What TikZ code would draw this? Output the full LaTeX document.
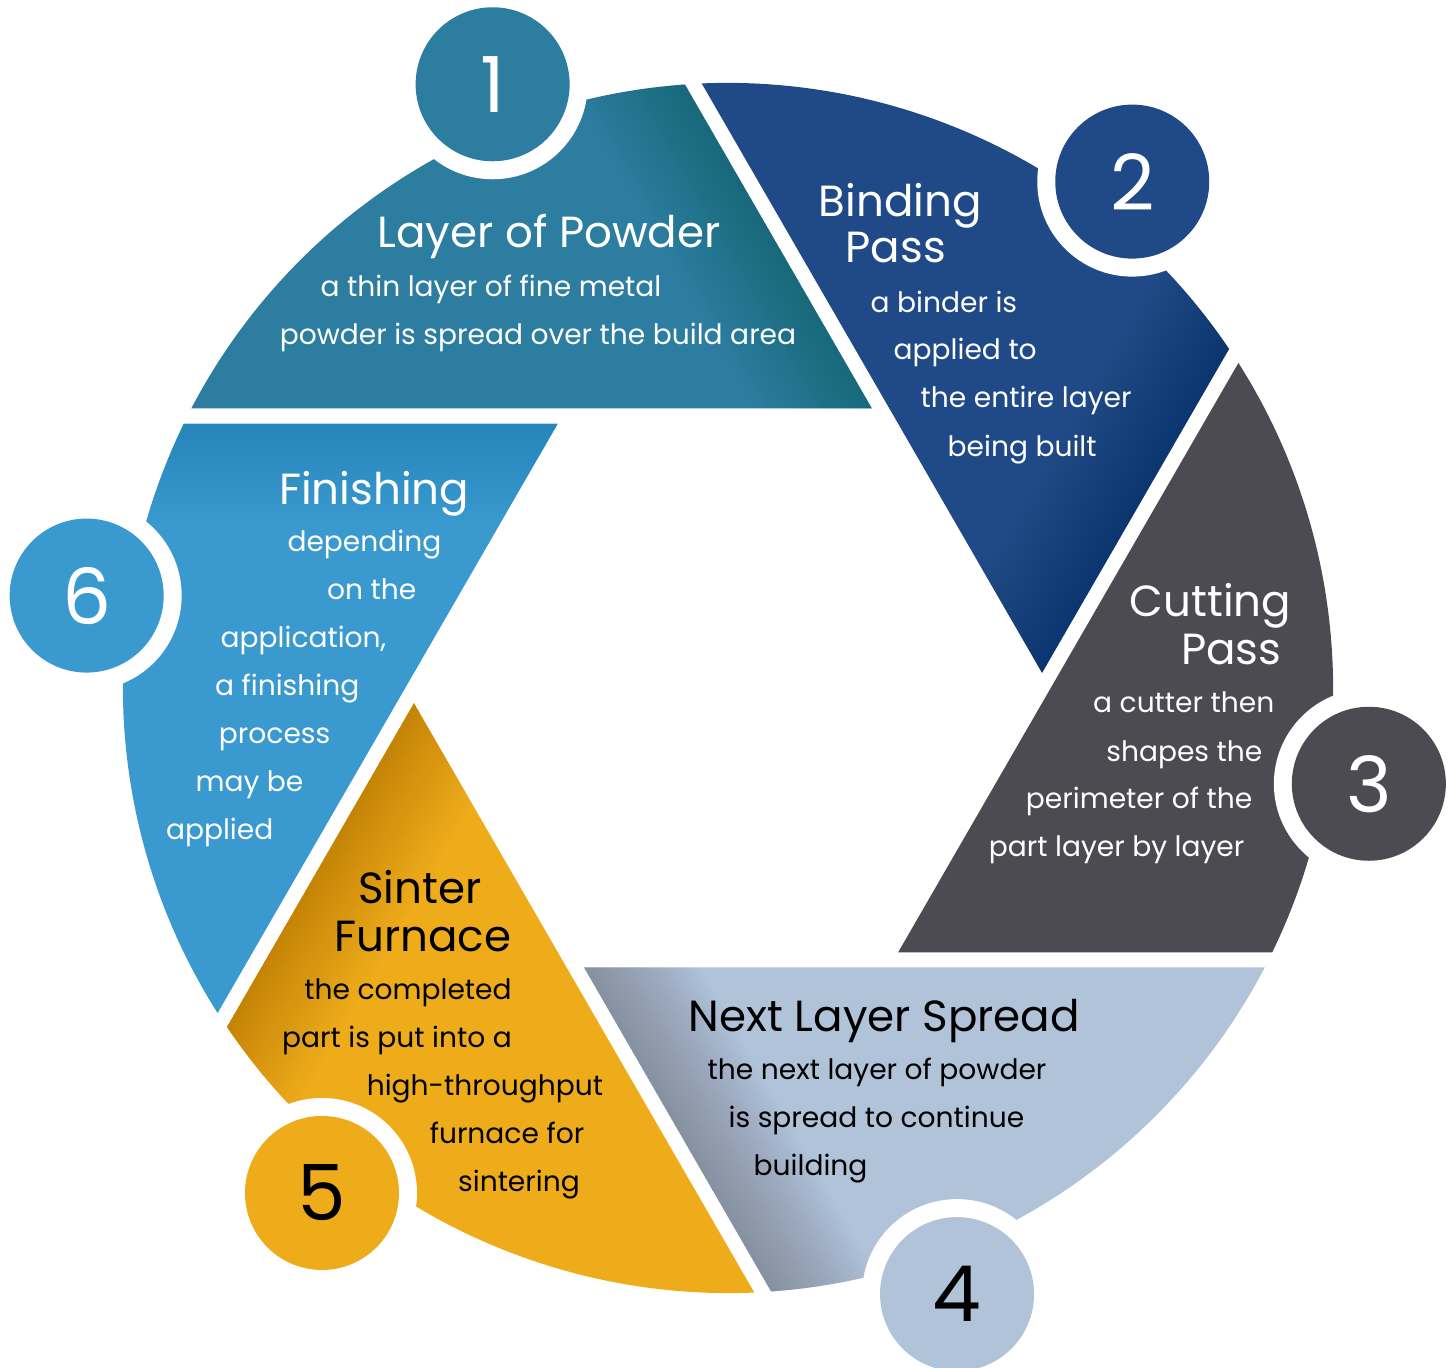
\documentclass[tikz,border=0pt]{standalone}
\usepackage{fontspec}
\setmainfont{Poppins}
\usepackage{tikz}
\usetikzlibrary{positioning}
\definecolor{blade1}{HTML}{2C7DA0}
\definecolor{blade2}{HTML}{1F4A87}
\definecolor{blade3}{HTML}{4C4B52}
\definecolor{blade4}{HTML}{B0C3D9}
\definecolor{blade5}{HTML}{EEAC1B}
\definecolor{blade6}{HTML}{3A9AD0}
\tikzset{
  headtxt/.style={font=\fontsize{12.4}{14}\selectfont,inner sep=0pt},
  bodytxt/.style={font=\fontsize{8}{10}\selectfont,inner sep=0pt},
  numcirc/.style={circle,minimum size=1.54cm,inner sep=0pt,font=\fontsize{22}{22}\selectfont},
}
\begin{document}
\begin{tikzpicture}
        \useasboundingbox (0,0) rectangle (14.54,13.68);
        %
        \foreach \k/\op in {1/0.007,2/0.006,3/0.0,4/0.013,5/0.009,6/0.004}{
          \begin{scope}[shift={(7.28,6.80)},rotate=-60*(\k-1)]
            \clip (0,0) circle (6.05);
            \clip (1.44,2.795) -- ++(-18,0) -- ++(9,15.59) -- cycle;
            \fill[blade\k] (-7,-7) rectangle (7,7);
            \foreach \w in {0.1,0.2,...,2.0}
              \draw[black,opacity=\op,line width=\w cm] (1.44,2.795) -- ++(-4.5,7.79);
          \end{scope}
        }
        %
        \foreach \k/\ang/\tc in {1/111.3/white,2/51.4/white,3/-8.5/white,4/-69.3/black,5/-128.8/black,6/171.8/white}{
          \fill[white] ([shift={(7.28,6.80)}]\ang:6.48) circle (0.95);
          \node[numcirc,fill=blade\k,text=\tc] (num\k) at ([shift={(7.28,6.80)}]\ang:6.48) {\k};
        }
        %
        \node[headtxt,text=white,anchor=base] (t1) at (5.49,11.20) {Layer of Powder};
        \node[bodytxt,text=white,anchor=base] (b1a) at (4.91,10.71) {a thin layer of fine metal};
        \node[bodytxt,text=white,anchor=base] (b1b) at (5.38,10.23) {powder is spread over the build area};
        %
        \node[headtxt,text=white,anchor=base west] (t2a) at (8.18,11.51) {Binding};
        \node[headtxt,text=white,anchor=base west] (t2b) at (8.45,11.05) {Pass};
        \node[bodytxt,text=white,anchor=base west] (b2a) at (8.70,10.55) {a binder is};
        \node[bodytxt,text=white,anchor=base west] (b2b) at (8.93,10.08) {applied to};
        \node[bodytxt,text=white,anchor=base west] (b2c) at (9.20,9.60) {the entire layer};
        \node[bodytxt,text=white,anchor=base west] (b2d) at (9.47,9.11) {being built};
        %
        \node[headtxt,text=white,anchor=base east] (t3a) at (12.92,7.51) {Cutting};
        \node[headtxt,text=white,anchor=base east] (t3b) at (12.82,7.03) {Pass};
        \node[bodytxt,text=white,anchor=base east] (b3a) at (12.75,6.55) {a cutter then};
        \node[bodytxt,text=white,anchor=base east] (b3b) at (12.63,6.06) {shapes the};
        \node[bodytxt,text=white,anchor=base east] (b3c) at (12.53,5.59) {perimeter of the};
        \node[bodytxt,text=white,anchor=base east] (b3d) at (12.45,5.11) {part layer by layer};
        %
        \node[headtxt,anchor=base west] (t4) at (6.88,3.36) {Next Layer Spread};
        \node[bodytxt,anchor=base west] (b4a) at (7.07,2.88) {the next layer of powder};
        \node[bodytxt,anchor=base west] (b4b) at (7.28,2.40) {is spread to continue};
        \node[bodytxt,anchor=base west] (b4c) at (7.53,1.92) {building};
        %
        \node[headtxt,anchor=base] (t5a) at (4.20,4.64) {Sinter};
        \node[headtxt,anchor=base] (t5b) at (4.23,4.16) {Furnace};
        \node[bodytxt,anchor=base] (b5a) at (4.08,3.68) {the completed};
        \node[bodytxt,anchor=base] (b5b) at (3.97,3.20) {part is put into a};
        \node[bodytxt,anchor=base] (b5c) at (4.85,2.72) {high-throughput};
        \node[bodytxt,anchor=base] (b5d) at (5.07,2.24) {furnace for};
        \node[bodytxt,anchor=base] (b5e) at (5.19,1.76) {sintering};
        %
        \node[headtxt,text=white,anchor=base east] (t6) at (4.70,8.63) {Finishing};
        \node[bodytxt,text=white,anchor=base east] (b6a) at (4.42,8.16) {depending};
        \node[bodytxt,text=white,anchor=base east] (b6b) at (4.17,7.68) {on the};
        \node[bodytxt,text=white,anchor=base east] (b6c) at (3.87,7.20) {application,};
        \node[bodytxt,text=white,anchor=base east] (b6d) at (3.60,6.72) {a finishing};
        \node[bodytxt,text=white,anchor=base east] (b6e) at (3.31,6.24) {process};
        \node[bodytxt,text=white,anchor=base east] (b6f) at (3.04,5.76) {may be};
        \node[bodytxt,text=white,anchor=base east] (b6g) at (2.74,5.28) {applied};
        %
\end{tikzpicture}
\end{document}
